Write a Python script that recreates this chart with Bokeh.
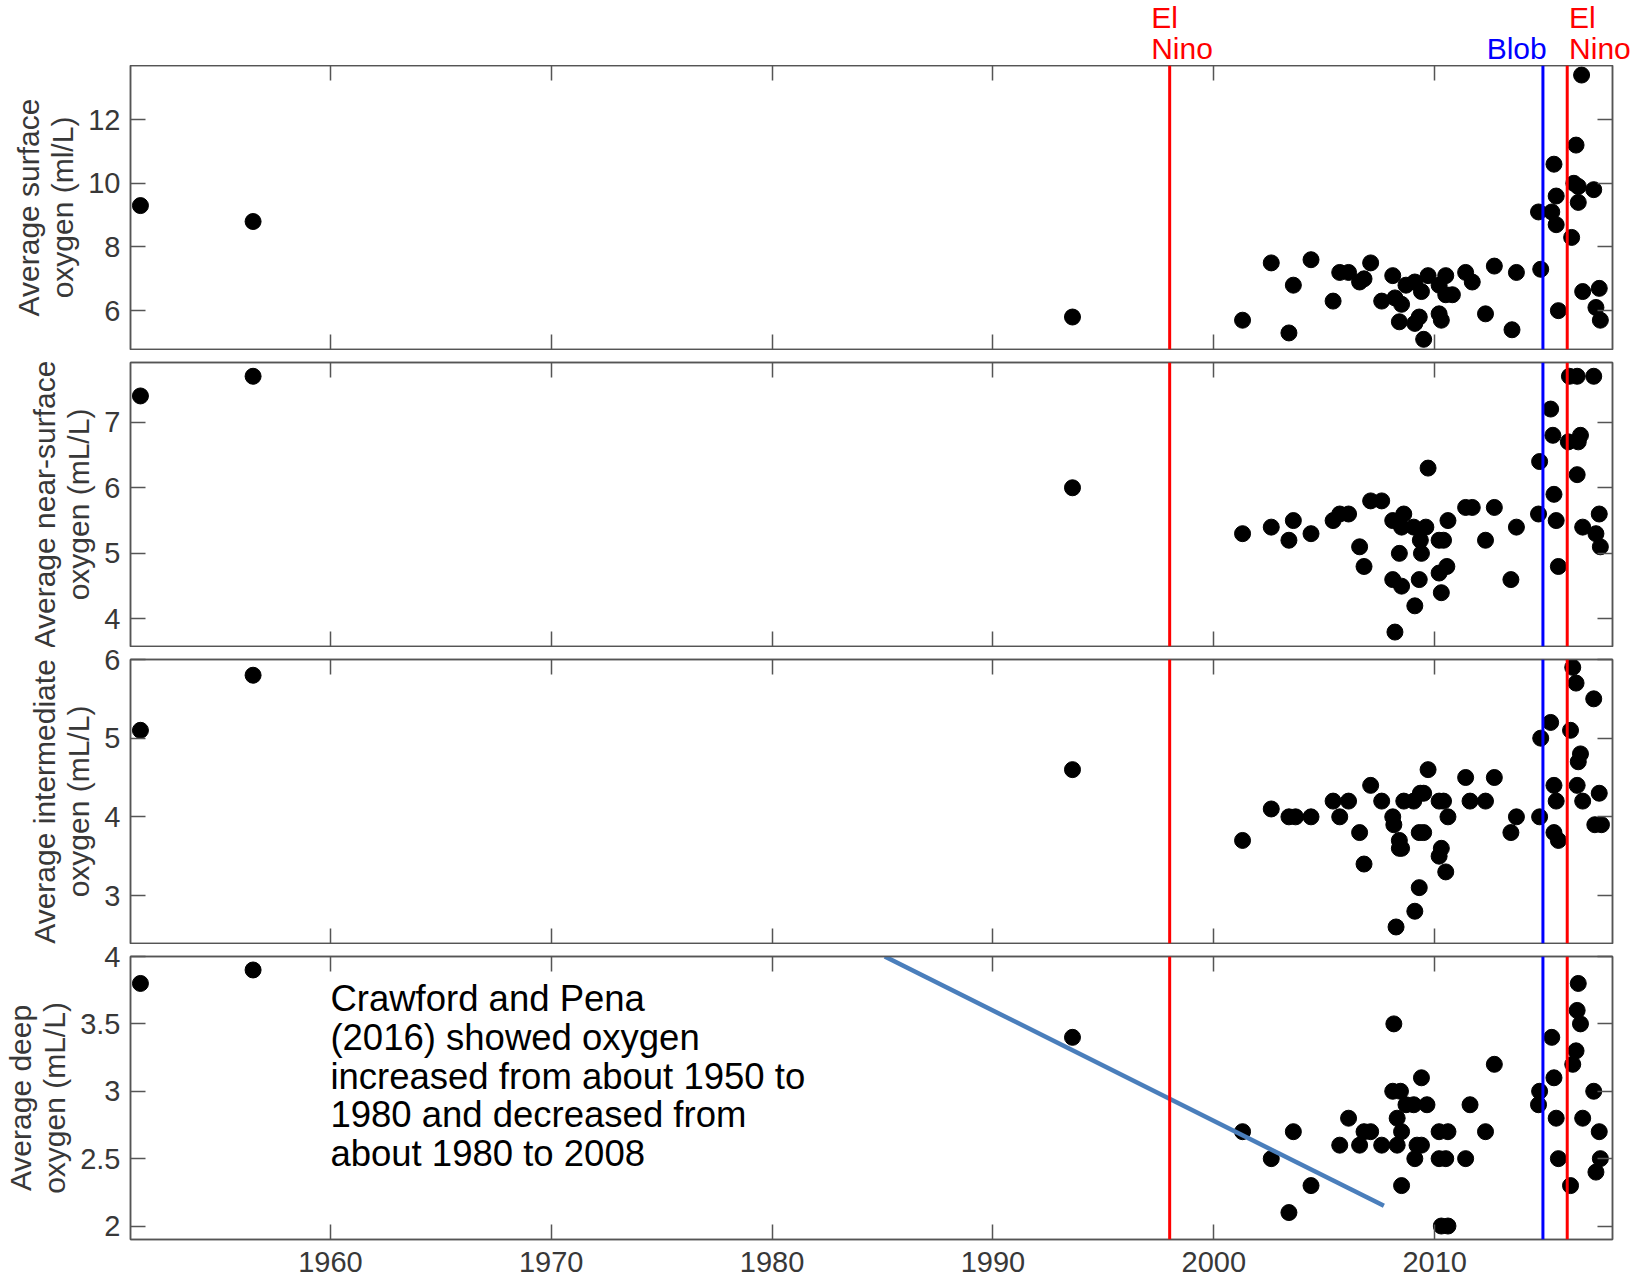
from bokeh.plotting import figure
from bokeh.layouts import column
from bokeh.models import (LinearAxis, FixedTicker, Span, CustomJSTickFormatter, Range1d)
from bokeh.core.properties import value
from bokeh.embed import file_html
from bokeh.resources import INLINE

FONT = "Liberation Sans"

# ---------------- data ----------------
SURF_YEAR = [1951.4, 1956.5, 1993.6, 2001.3, 2002.6, 2003.4, 2003.6, 2004.4, 2005.4, 2005.7,
             2006.1, 2006.6, 2006.8, 2007.1, 2007.6, 2008.1, 2008.2, 2008.5, 2008.4, 2008.7,
             2009.1, 2009.4, 2009.3, 2009.7, 2009.1, 2009.5, 2010.2, 2010.5, 2010.3, 2010.5,
             2010.8, 2010.2, 2011.4, 2011.7, 2012.3, 2012.7, 2013.5, 2013.7, 2014.8, 2014.7,
             2015.4, 2015.5, 2015.3, 2015.5, 2015.6, 2016.2, 2016.4, 2016.3, 2016.5, 2016.5,
             2017.2, 2016.65, 2016.7, 2017.45, 2017.3, 2017.5]
SURF_O2 = [9.3, 8.8, 5.8, 5.7, 7.5, 5.3, 6.8, 7.6, 6.3, 7.2,
           7.2, 6.9, 7.0, 7.5, 6.3, 7.1, 6.4, 6.2, 5.65, 6.8,
           6.9, 6.6, 5.8, 7.1, 5.6, 5.1, 6.8, 7.1, 5.7, 6.5,
           6.5, 5.9, 7.2, 6.9, 5.9, 7.4, 5.4, 7.2, 7.3, 9.1,
           10.6, 9.6, 9.1, 8.7, 6.0, 8.3, 11.2, 10.0, 9.9, 9.4,
           9.8, 13.4, 6.6, 6.7, 6.1, 5.7]

NEAR_YEAR = [1951.4, 1956.5, 1993.6, 2001.3, 2002.6, 2003.4, 2003.6, 2004.4, 2005.4, 2005.7,
             2006.1, 2006.6, 2006.8, 2007.1, 2007.6, 2008.1, 2008.6, 2008.5, 2009.05, 2009.6,
             2009.35, 2008.4, 2009.4, 2008.1, 2008.5, 2009.3, 2009.1, 2008.2, 2009.7, 2010.2,
             2010.4, 2010.6, 2010.55, 2010.2, 2010.3, 2011.4, 2011.7, 2012.3, 2012.7, 2013.7,
             2013.45, 2014.7, 2014.75, 2015.25, 2015.35, 2015.4, 2015.5, 2015.6, 2016.05, 2016.6,
             2016.5, 2016.45, 2016.1, 2016.45, 2017.2, 2016.7, 2017.45, 2017.3, 2017.5]
NEAR_O2 = [7.4, 7.7, 6.0, 5.3, 5.4, 5.2, 5.5, 5.3, 5.5, 5.6,
           5.6, 5.1, 4.8, 5.8, 5.8, 5.5, 5.6, 5.4, 5.4, 5.4,
           5.2, 5.0, 5.0, 4.6, 4.5, 4.6, 4.2, 3.8, 6.3, 5.2,
           5.2, 5.5, 4.8, 4.7, 4.4, 5.7, 5.7, 5.2, 5.7, 5.4,
           4.6, 5.6, 6.4, 7.2, 6.8, 5.9, 5.5, 4.8, 6.7, 6.8,
           6.7, 6.2, 7.7, 7.7, 7.7, 5.4, 5.6, 5.3, 5.1]

INTER_YEAR = [1951.4, 1956.5, 1993.6, 2001.3, 2002.6, 2003.4, 2003.7, 2004.4, 2005.4, 2006.1,
              2005.7, 2006.6, 2006.8, 2007.1, 2007.6, 2008.1, 2008.15, 2008.4, 2008.4, 2008.5,
              2008.6, 2009.05, 2009.35, 2009.5, 2009.7, 2009.3, 2009.5, 2008.25, 2009.1, 2009.3,
              2010.2, 2010.4, 2010.6, 2010.3, 2010.2, 2010.5, 2011.4, 2011.6, 2012.3, 2012.7,
              2013.7, 2013.45, 2014.8, 2015.25, 2014.75, 2015.4, 2015.5, 2015.4, 2015.6, 2016.15,
              2016.25, 2016.4, 2017.2, 2016.6, 2016.5, 2016.45, 2016.7, 2017.45, 2017.25, 2017.55]
INTER_O2 = [5.1, 5.8, 4.6, 3.7, 4.1, 4.0, 4.0, 4.0, 4.2, 4.2,
            4.0, 3.8, 3.4, 4.4, 4.2, 4.0, 3.9, 3.7, 3.6, 3.6,
            4.2, 4.2, 4.3, 4.3, 4.6, 3.8, 3.8, 2.6, 2.8, 3.1,
            4.2, 4.2, 4.0, 3.6, 3.5, 3.3, 4.5, 4.2, 4.2, 4.5,
            4.0, 3.8, 5.0, 5.2, 4.0, 4.4, 4.2, 3.8, 3.7, 5.1,
            5.9, 5.7, 5.5, 4.8, 4.7, 4.4, 4.2, 4.3, 3.9, 3.9]

DEEP_YEAR = [1951.4, 1956.5, 1993.6, 2001.3, 2002.6, 2003.4, 2003.6, 2004.4, 2005.7, 2006.1,
             2006.6, 2006.8, 2007.1, 2007.6, 2008.15, 2008.1, 2008.45, 2008.3, 2008.5, 2008.3,
             2008.5, 2008.7, 2009.05, 2009.65, 2009.4, 2009.2, 2009.4, 2009.1, 2010.2, 2010.6,
             2010.2, 2010.5, 2010.3, 2010.6, 2011.4, 2011.6, 2012.3, 2012.7, 2014.75, 2014.7,
             2015.3, 2015.4, 2015.5, 2015.6, 2016.15, 2016.25, 2016.4, 2016.5, 2016.45, 2016.6,
             2016.7, 2017.2, 2017.45, 2017.5, 2017.3]
DEEP_O2 = [3.8, 3.9, 3.4, 2.7, 2.5, 2.1, 2.7, 2.3, 2.6, 2.8,
           2.6, 2.7, 2.7, 2.6, 3.5, 3.0, 3.0, 2.8, 2.7, 2.6,
           2.3, 2.9, 2.9, 2.9, 3.1, 2.6, 2.6, 2.5, 2.7, 2.7,
           2.5, 2.5, 2.0, 2.0, 2.5, 2.9, 2.7, 3.2, 3.0, 2.9,
           3.4, 3.1, 2.8, 2.5, 2.3, 3.2, 3.3, 3.8, 3.6, 3.5,
           2.8, 3.0, 2.7, 2.5, 2.4]

PANEL_LABELS = ["Average surface\noxygen (ml/L)",
                "Average near-surface\noxygen (mL/L)",
                "Average intermediate\noxygen (mL/L)",
                "Average deep\noxygen (mL/L)"]
Y_TICKS = [[6, 8, 10, 12], [4, 5, 6, 7], [3, 4, 5, 6], [2, 2.5, 3, 3.5, 4]]
Y_LIMITS = [(4.78, 13.70), (3.58, 7.91), (2.39, 6.0), (1.90, 4.0)]
X_TICKS = [1960, 1970, 1980, 1990, 2000, 2010]
X_LIMITS = (1950.95, 2018.05)

EVENT_YEARS = [1998, 2014.9, 2016]
EVENT_NAMES = ["El\nNino", "Blob", "El\nNino"]
EVENT_COLORS = ["#ff0000", "#0000ff", "#ff0000"]

TREND_YEAR = [1985.1, 2007.7]
TREND_O2 = [4.0, 2.15]

NOTE_TEXT = ("Crawford and Pena\n(2016) showed oxygen\nincreased from about 1950 to\n"
             "1980 and decreased from\nabout 1980 to 2008")
NOTE_X = 1960
NOTE_Y = 3.84

AX_COLOR = "#555555"
TXT_COLOR = "#383838"

LEFT, RIGHT, WIDTH = 125, 20, 1632
FRAME_W = WIDTH - LEFT - RIGHT
OVERLAP = 5  # px by which a lower panel's (transparent) top border slides under the panel above

num_fmt = CustomJSTickFormatter(code="return tick.toString();")
blank_fmt = CustomJSTickFormatter(code="return '';")


def style_axis(ax, labels):
    ax.major_tick_in = 15
    ax.major_tick_out = 0
    ax.minor_tick_in = 0
    ax.minor_tick_out = 0
    ax.major_tick_line_color = AX_COLOR
    ax.major_tick_line_width = 1.5
    ax.axis_line_color = AX_COLOR
    ax.axis_line_width = 1.5
    if labels:
        ax.formatter = num_fmt
        ax.major_label_text_font = FONT
        ax.major_label_text_font_size = "29px"
        ax.major_label_text_color = TXT_COLOR
    else:
        ax.formatter = blank_fmt
        ax.major_label_standoff = 0


def make_panel(i, years, vals, top, frame_h, bottom, show_x, shift_up=0):
    p = figure(width=WIDTH, height=top + frame_h + bottom, title=None,
               x_range=Range1d(*X_LIMITS), y_range=Range1d(*Y_LIMITS[i]),
               output_backend="svg", toolbar_location=None,
               min_border_left=LEFT, min_border_right=RIGHT,
               min_border_top=top, min_border_bottom=bottom,
               x_axis_location=None, y_axis_location=None,
               margin=(-shift_up, 0, 0, 0))
    p.xgrid.visible = False
    p.ygrid.visible = False
    p.outline_line_color = AX_COLOR
    p.outline_line_width = 1.5
    p.background_fill_color = "white"
    p.border_fill_color = None

    xt = FixedTicker(ticks=X_TICKS, minor_ticks=[])
    yt = FixedTicker(ticks=Y_TICKS[i], minor_ticks=[])

    xb = LinearAxis(ticker=xt)
    style_axis(xb, show_x)
    if show_x:
        xb.major_label_standoff = 12
    p.add_layout(xb, "below")
    xa = LinearAxis(ticker=xt)
    style_axis(xa, False)
    p.add_layout(xa, "above")

    yl = LinearAxis(ticker=yt, axis_label=PANEL_LABELS[i])
    style_axis(yl, True)
    yl.major_label_standoff = 10
    yl.axis_label_text_font = FONT
    yl.axis_label_text_font_size = "30px"
    yl.axis_label_text_font_style = "normal"
    yl.axis_label_text_color = TXT_COLOR
    yl.axis_label_standoff = 6
    yl.axis_label_text_line_height = 1.05
    p.add_layout(yl, "left")
    yr = LinearAxis(ticker=yt)
    style_axis(yr, False)
    p.add_layout(yr, "right")

    p.scatter(years, vals, size=16, marker="circle", color="black")

    for yr_, col in zip(EVENT_YEARS, EVENT_COLORS):
        p.add_layout(Span(location=yr_, dimension="height", line_color=col, line_width=3))
    return p


# header strip carrying the event names above the top panel (frame = whole strip)
HEAD_H = 65
span_years = X_LIMITS[1] - X_LIMITS[0]
head = figure(width=WIDTH, height=HEAD_H, title=None,
              x_range=Range1d(X_LIMITS[0] - span_years * LEFT / FRAME_W,
                              X_LIMITS[1] + span_years * RIGHT / FRAME_W),
              y_range=Range1d(0, HEAD_H),
              output_backend="svg", toolbar_location=None,
              min_border=0, min_border_left=0, min_border_right=0,
              min_border_top=0, min_border_bottom=0,
              x_axis_location=None, y_axis_location=None)
try:
    head.frame_align = False
except AttributeError:
    pass
head.xgrid.visible = False
head.ygrid.visible = False
head.outline_line_color = None
head.border_fill_color = None
head.background_fill_color = None

offsets = [(-17, "left"), (4, "right"), (2, "left")]
LINE_TOPS = [64.5, 33.7]  # anchor heights (px from strip bottom) of first / second line
tx, ty, tt, tc, tox, ta = [], [], [], [], [], []
for yr_, name, col, (dx, align) in zip(EVENT_YEARS, EVENT_NAMES, EVENT_COLORS, offsets):
    lines = name.split("\n")
    tops = LINE_TOPS[-len(lines):]
    for line, top in zip(lines, tops):
        tx.append(yr_)
        ty.append(top)
        tt.append(line)
        tc.append(col)
        tox.append(dx)
        ta.append(align)
head.text(x=tx, y=ty, text=tt, text_color=tc, x_offset=tox, text_align=ta,
          text_font=value(FONT), text_font_size="30px", text_baseline="top")

p1 = make_panel(0, SURF_YEAR, SURF_O2, 0, 284, 1, False)
p2 = make_panel(1, NEAR_YEAR, NEAR_O2, 12, 284, 1, False)
p3 = make_panel(2, INTER_YEAR, INTER_O2, 12 + OVERLAP, 284, 1, False, OVERLAP)
p4 = make_panel(3, DEEP_YEAR, DEEP_O2, 12 + OVERLAP, 283, 40, True, OVERLAP)

# trend line and note in deep panel
p4.line(TREND_YEAR, TREND_O2, line_color="#4a7ebb", line_width=4.5)
p4.text(x=[NOTE_X], y=[NOTE_Y], text=[NOTE_TEXT], text_font=value(FONT),
        text_font_size="36.5px", text_color="black", text_baseline="top",
        text_align="left", text_line_height=0.945)

layout = column(head, p1, p2, p3, p4, spacing=0)

with open("out.html", "w") as f:
    f.write(file_html(layout, INLINE))
